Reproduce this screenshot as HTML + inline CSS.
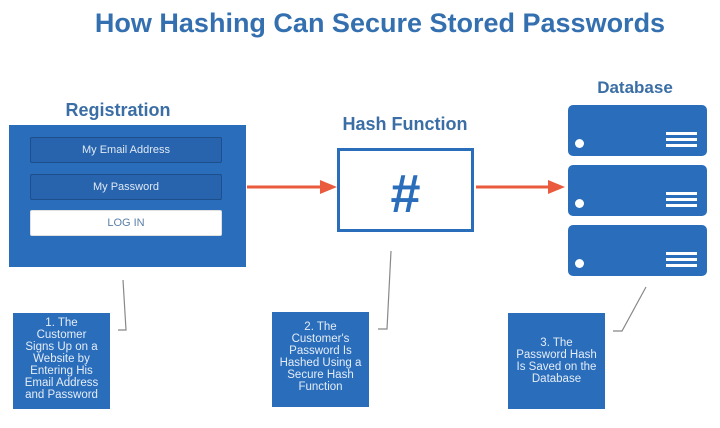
<!DOCTYPE html>
<html><head><style>
body{margin:0;width:720px;height:428px;background:#fff;position:relative;overflow:hidden;font-family:"Liberation Sans",sans-serif}
.a{position:absolute}
.t{color:#3a6ea5;font-weight:bold;text-align:center}
.f{position:absolute;left:21px;width:190px;height:24px;background:#2764ad;border:1px solid #1c4f8c;border-radius:2px;color:#dfe9f5;font-size:11px;text-align:center;line-height:24px}
.n{position:absolute;background:#2a6dbb;color:#e4edf7;font-size:11.5px;line-height:12px;text-align:center;box-sizing:border-box;padding:4px 9px}
.s{position:absolute;left:568px;width:139px;height:51px;background:#2a6dbb;border-radius:5px}
.s i{position:absolute;left:7px;bottom:8px;width:9px;height:9px;border-radius:50%;background:#fff}
.s b{position:absolute;right:10px;width:31px;height:3px;background:#fff}
</style></head><body>
<div class="a t" style="left:0;width:760px;top:8px;font-size:27px;color:#3470b0">How Hashing Can Secure Stored Passwords</div>
<div class="a t" style="left:18px;width:200px;top:100px;font-size:18px">Registration</div>
<div class="a" style="left:9px;top:125px;width:237px;height:142px;background:#2a6dbb">
<div class="f" style="top:12px">My Email Address</div>
<div class="f" style="top:49px">My Password</div>
<div class="f" style="top:85px;background:#fff;border-color:#e0e0e0;color:#5a7fa8">LOG IN</div>
</div>
<div class="a t" style="left:305px;width:200px;top:114px;font-size:18px">Hash Function</div>
<div class="a" style="left:337px;top:148px;width:131px;height:78px;border:3px solid #2a6dbb;color:#2a6dbb;font-size:54px;font-weight:bold;text-align:center;line-height:86px">#</div>
<div class="a t" style="left:535px;width:200px;top:78px;font-size:17px">Database</div>
<div class="s" style="top:105px"><i></i><b style="top:27px"></b><b style="top:33px"></b><b style="top:39px"></b></div>
<div class="s" style="top:165px"><i></i><b style="top:27px"></b><b style="top:33px"></b><b style="top:39px"></b></div>
<div class="s" style="top:225px"><i></i><b style="top:27px"></b><b style="top:33px"></b><b style="top:39px"></b></div>
<svg class="a" style="left:0;top:0" width="720" height="428">
<line x1="247" y1="187" x2="322" y2="187" stroke="#ea5a3c" stroke-width="3"/>
<polygon points="320,180 337,187 320,194" fill="#ea5a3c"/>
<line x1="476" y1="187" x2="550" y2="187" stroke="#ea5a3c" stroke-width="3"/>
<polygon points="548,180 565,187 548,194" fill="#ea5a3c"/>
<polyline points="123,280 126,330 118,330" fill="none" stroke="#888" stroke-width="1.2"/>
<polyline points="391,251 387,329 378,329" fill="none" stroke="#888" stroke-width="1.2"/>
<polyline points="646,287 622,331 613,331" fill="none" stroke="#888" stroke-width="1.2"/>
</svg>
<div class="n" style="left:13px;top:313px;width:97px;height:96px">1. The Customer Signs Up on a Website by Entering His Email Address and Password</div>
<div class="n" style="left:272px;top:312px;width:97px;height:95px;padding:9px 3px 0">2. The Customer's Password Is Hashed Using a Secure Hash Function</div>
<div class="n" style="left:508px;top:313px;width:97px;height:96px;padding:24px 8px 0">3. The Password Hash Is Saved on the Database</div>
</body></html>
